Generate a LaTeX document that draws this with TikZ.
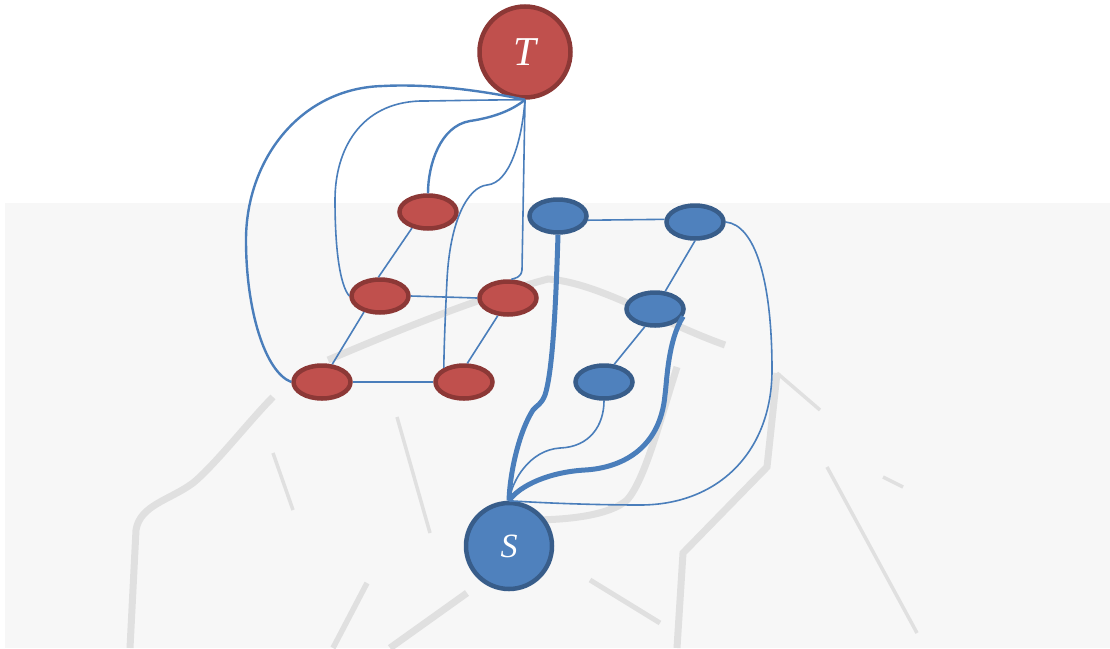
\documentclass[tikz,border=0pt]{standalone}
\usepackage{fontspec}
\setmainfont{Liberation Serif}
\usetikzlibrary{shapes.geometric}

\definecolor{redfill}{HTML}{C0504D}
\definecolor{redline}{HTML}{8C3836}
\definecolor{bluefill}{HTML}{4F81BD}
\definecolor{blueline}{HTML}{385D8A}
\definecolor{edgeblue}{HTML}{4A7EBB}
\definecolor{paper}{HTML}{F7F7F7}
\definecolor{mark}{HTML}{E0E0E0}

\tikzset{
  rednode/.style={ellipse, draw=redline, fill=redfill, line width=4.5pt,
    minimum width=57pt, minimum height=33pt, inner sep=0pt},
  bluenode/.style={ellipse, draw=blueline, fill=bluefill, line width=4.5pt,
    minimum width=57pt, minimum height=33pt, inner sep=0pt},
  terminal/.style={circle, line width=4.5pt, inner sep=0pt, text=white,
    font=\itshape},
  link/.style={draw=edgeblue, line width=1.6pt},
  boldlink/.style={draw=edgeblue, line width=2.4pt},
  heavylink/.style={draw=edgeblue, line width=5pt},
  wm/.style={draw=mark, line width=7pt},
  wmthin/.style={draw=mark, line width=3.5pt},
}

\begin{document}
\begin{tikzpicture}[x=1pt, y=-1pt]
  \useasboundingbox (0,0) rectangle (1110,648);
  \fill[white] (0,0) rectangle (1110,648);
  \fill[paper] (5,203) rectangle (1110,648);

  % faint emblem in the background
  \draw[wm] (328,360) .. controls (380,338) and (470,300) .. (548,279)
            .. controls (600,283) and (660,322) .. (725,345);
  \draw[wm] (273,397) .. controls (250,420) and (215,465) .. (193,483)
            .. controls (170,500) and (140,505) .. (136,530) -- (130,648);
  \draw[wmthin] (397,417) -- (430,533);
  \draw[wmthin] (273,453) -- (293,510);
  \draw[wm] (467,593) -- (390,648);
  \draw[wmthin, line width=5.5pt] (367,583) -- (333,648);
  \draw[wm] (677,367) .. controls (660,420) and (645,480) .. (627,500)
            .. controls (610,515) and (570,520) .. (530,520);
  \draw[wmthin] (820,410) -- (777,373);
  \draw[wm] (777,373) -- (767,467) -- (683,553) -- (677,648);
  \draw[wmthin] (827,467) -- (917,633);
  \draw[wmthin] (883,477) -- (903,487);
  \draw[wmthin, line width=5pt] (590,580) -- (660,623);

  % terminals
  \node[terminal, draw=redline, fill=redfill, minimum size=91pt,
        font=\itshape\fontsize{41}{41}\selectfont] (T) at (525,52) {T};
  \node[terminal, draw=blueline, fill=bluefill, minimum size=86pt,
        font=\itshape\fontsize{34}{34}\selectfont] (S) at (509,546) {S};

  % red vertices
  \node[rednode] (r1) at (428,212) {};
  \node[rednode] (r2) at (380,296) {};
  \node[rednode] (r3) at (508,298) {};
  \node[rednode] (r4) at (322,382) {};
  \node[rednode] (r5) at (464,382) {};

  % blue vertices
  \node[bluenode] (b1) at (558,216) {};
  \node[bluenode] (b2) at (695,222) {};
  \node[bluenode] (b3) at (655,309) {};
  \node[bluenode] (b4) at (604,382) {};

  % red grid
  \draw[link] (r1.225) -- (r2.95);
  \draw[link] (r2.east) -- (r3.west);
  \draw[link] (r2.225) -- (r4.60);
  \draw[link] (r3.240) -- (r5.80);
  \draw[link] (r4.east) -- (r5.west);

  % blue grid
  \draw[link] (b1.-8) -- (b2.175);
  \draw[link] (b2.south) -- (b3.60);
  \draw[link] (b3.240) -- (b4.60);

  % connections to T
  \draw[boldlink] (T.south) .. controls (470,88) and (420,84) .. (383,86)
        .. controls (300,88) and (246,160) .. (246,240)
        .. controls (246,310) and (265,372) .. (r4.west);
  \draw[link] (T.south) .. controls (470,100) and (440,101) .. (420,101)
        .. controls (360,103) and (335,150) .. (335,200)
        .. controls (335,250) and (340,285) .. (r2.west);
  \draw[boldlink] (T.south) .. controls (510,112) and (490,118) .. (470,121)
        .. controls (440,126) and (428,165) .. (r1.north);
  \draw[link] (T.south) .. controls (522,140) and (510,183) .. (487,185)
        .. controls (468,187) and (450,220) .. (447,280)
        .. controls (445,320) and (444,350) .. (r5.145);
  \draw[link] (T.south) -- (522,270) .. controls (521,278) and (515,278) .. (r3.80);

  % connections to S
  \draw[heavylink] (S.north) .. controls (510,470) and (520,430) .. (533,410)
        .. controls (537,405) and (541,405) .. (545,395)
        .. controls (553,370) and (556,300) .. (b1.south);
  \draw[link] (S.north) .. controls (512,480) and (530,450) .. (560,448)
        .. controls (590,447) and (604,425) .. (b4.south);
  \draw[heavylink] (S.north) .. controls (520,485) and (550,472) .. (585,470)
        .. controls (620,468) and (660,450) .. (665,395)
        .. controls (667,380) and (668,340) .. (b3.-15);
  \draw[link] (S.north) .. controls (560,504) and (610,505) .. (640,505)
        .. controls (720,505) and (772,450) .. (772,370)
        .. controls (772,280) and (755,225) .. (b2.east);
\end{tikzpicture}
\end{document}
